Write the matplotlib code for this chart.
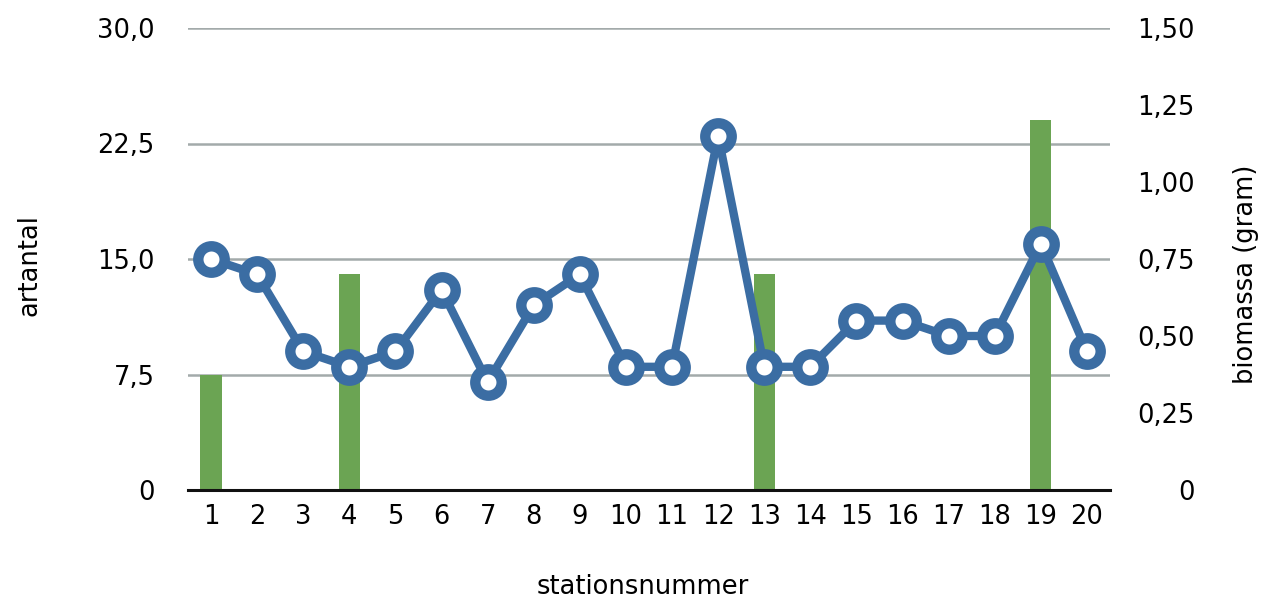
import matplotlib
matplotlib.use("Agg")
import matplotlib.pyplot as plt

# Station data
stations = list(range(1, 21))
artantal = [15, 14, 9, 8, 9, 13, 7, 12, 14, 8, 8, 23, 8, 8, 11, 11, 10, 10, 16, 9]
biomassa = [0.375, 0, 0, 0.7, 0, 0, 0, 0, 0, 0, 0, 0, 0.7, 0, 0, 0, 0, 0, 1.2, 0]

art_ticks = [0, 7.5, 15, 22.5, 30]
art_ticklabels = ["0", "7,5", "15,0", "22,5", "30,0"]
bio_ticks = [0, 0.25, 0.5, 0.75, 1.0, 1.25, 1.5]
bio_ticklabels = ["0", "0,25", "0,50", "0,75", "1,00", "1,25", "1,50"]

line_color = "#3B6DA3"
bar_color = "#6BA453"
grid_color = "#A3AAAA"
font = "DejaVu Sans"
fs = 18.5

fig = plt.figure(figsize=(12.74, 6.06), dpi=100)
fig.patch.set_facecolor("white")
W, H = 1274, 606
ax = fig.add_axes([188 / W, 1 - 490 / H, 922 / W, 462 / H])
ax_bio = ax.twinx()

# bars on the biomass axis sit underneath the species-count line
ax.set_zorder(ax_bio.get_zorder() + 1)
ax.patch.set_visible(False)

art_max = art_ticks[-1]
bio_max = bio_ticks[-1]

ax.set_xlim(0.5, 20.5)
ax.set_ylim(0, art_max)
ax_bio.set_ylim(0, bio_max)

# horizontal gridlines at the left-axis ticks, drawn behind the bars
for t in art_ticks[1:]:
    ax_bio.axhline(t / art_max * bio_max, color=grid_color, lw=1.8, zorder=0)

ax_bio.bar(stations, biomassa, width=0.46, color=bar_color, zorder=2)

ax.plot(stations, artantal, color=line_color, lw=6, marker="o",
        markersize=19, markerfacecolor="white", markeredgecolor=line_color,
        markeredgewidth=7.5, zorder=3, clip_on=False)

for a in (ax, ax_bio):
    for s in ("top", "left", "right", "bottom"):
        a.spines[s].set_visible(False)
    a.tick_params(length=0)

ax.axhline(0, color="#111111", lw=2.2, zorder=4, clip_on=False)

ax.set_xticks(stations)
ax.set_xticklabels([str(s) for s in stations], fontsize=fs, family=font)
ax.tick_params(axis="x", pad=10)

ax.set_yticks(art_ticks)
ax.set_yticklabels(art_ticklabels, fontsize=fs, family=font)
ax.tick_params(axis="y", pad=24)

ax_bio.set_yticks(bio_ticks)
ax_bio.set_yticklabels(bio_ticklabels, fontsize=fs, family=font, ha="right")
ax_bio.tick_params(axis="y", pad=61)

fig.text(30 / W, 1 - 265 / H, "artantal", rotation=90, ha="center", va="center",
         fontsize=fs, family=font)
fig.text(1246 / W, 1 - 274 / H, "biomassa (gram)", rotation=90, ha="center",
         va="center", fontsize=fs, family=font)
fig.text(643 / W, 1 - 587 / H, "stationsnummer", ha="center", va="center",
         fontsize=fs, family=font)

fig.savefig("out.png", dpi=100)
